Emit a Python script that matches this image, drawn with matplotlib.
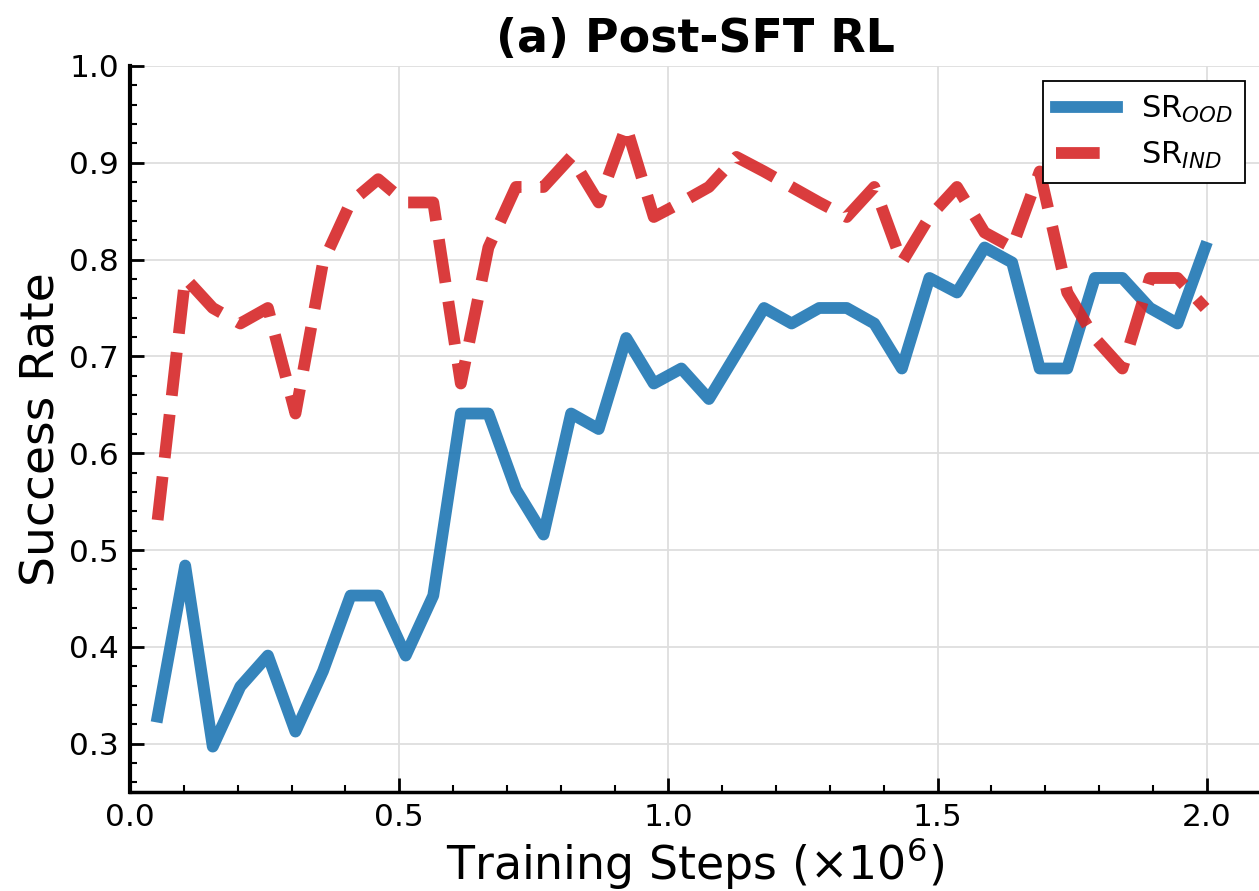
import matplotlib
matplotlib.use("Agg")
import matplotlib.pyplot as plt
import numpy as np
from matplotlib.ticker import MultipleLocator

# evaluation every 51200 env steps, 39 checkpoints
eval_every = 51200
steps = np.arange(1, 40) * eval_every / 1e6

sr_ood = [0.328, 0.484, 0.297, 0.359, 0.391, 0.3125, 0.375, 0.453, 0.453, 0.391,
          0.453, 0.641, 0.641, 0.5625, 0.516, 0.641, 0.625, 0.719, 0.672, 0.6875,
          0.656, 0.703, 0.75, 0.734, 0.75, 0.75, 0.734, 0.6875, 0.781, 0.766,
          0.8125, 0.797, 0.6875, 0.6875, 0.781, 0.781, 0.75, 0.734, 0.8125]
sr_ind = [0.531, 0.781, 0.75, 0.734, 0.75, 0.641, 0.797, 0.859, 0.883, 0.859,
          0.859, 0.672, 0.8125, 0.875, 0.875, 0.906, 0.859, 0.9375, 0.844, 0.859,
          0.875, 0.906, 0.891, 0.875, 0.859, 0.844, 0.875, 0.797, 0.844, 0.875,
          0.828, 0.8125, 0.891, 0.766, 0.719, 0.6875, 0.781, 0.781, 0.75]

fig = plt.figure(figsize=(12.59, 8.91), dpi=100)
ax = fig.add_axes([0.1033, 0.111, 0.898, 0.815])

ax.plot(steps, sr_ood, color='tab:blue', lw=8.5, alpha=0.9, label=r'SR$_{OOD}$')
ax.plot(steps, sr_ind, color='tab:red', lw=8.5, alpha=0.9, linestyle='--', label=r'SR$_{IND}$')

ax.set_xlim(0, 2.1)
ax.set_ylim(0.25, 1.0)
ax.xaxis.set_major_locator(MultipleLocator(0.5))
ax.xaxis.set_minor_locator(MultipleLocator(0.1))
ax.yaxis.set_major_locator(MultipleLocator(0.1))
ax.yaxis.set_minor_locator(MultipleLocator(0.02))

ax.grid(True, which='major', color='#dedede', lw=1.3)
ax.set_axisbelow(True)

for side in ['top', 'right']:
    ax.spines[side].set_visible(False)
ax.spines['left'].set_linewidth(3)
ax.spines['bottom'].set_linewidth(2.5)

ax.tick_params(which='major', direction='in', length=10, width=2, labelsize=22.5, pad=8)
ax.tick_params(which='minor', direction='in', length=5, width=1.5)

ax.set_xlabel(r'Training Steps ($\times10^6$)', fontsize=33, labelpad=2)
ax.set_ylabel('Success Rate', fontsize=34, labelpad=3)
ax.set_title('(a) Post-SFT RL', fontsize=33, fontweight='bold', pad=10)

leg = ax.legend(loc='upper right', fontsize=22, fancybox=False, framealpha=1,
                edgecolor='black')
leg.get_frame().set_linewidth(1.3)

fig.savefig('out.png', dpi=100)
